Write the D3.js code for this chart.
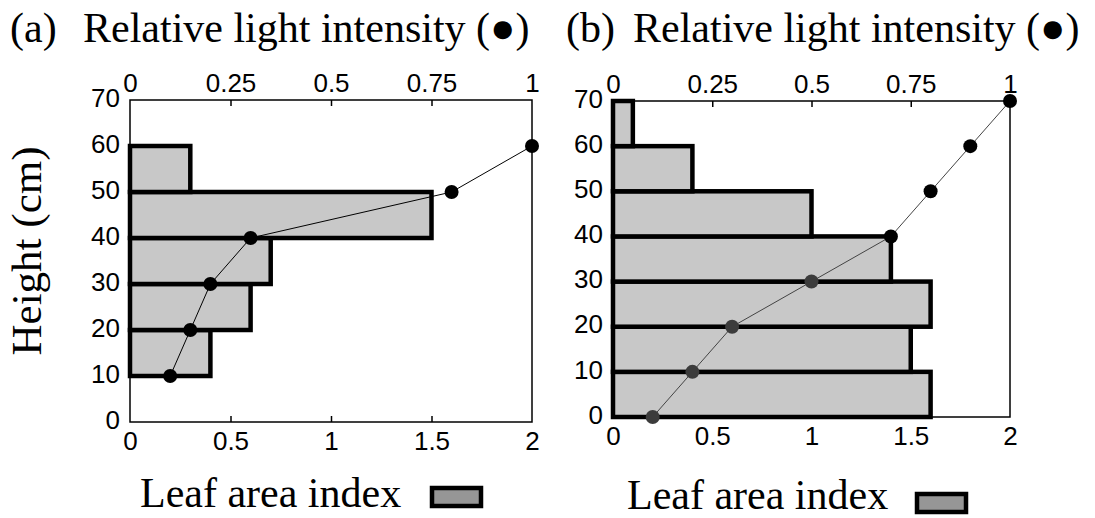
<!DOCTYPE html>
<html>
<head>
<meta charset="utf-8">
<script src="https://cdn.jsdelivr.net/npm/d3@7"></script>
<style>
  body { margin: 0; background: #fff; }
  svg { display: block; }
  .tick text { font-family: "Liberation Sans", Arial, sans-serif; font-size: 26px; fill: #000; }
  .serif { font-family: "Liberation Serif", "Times New Roman", serif; fill: #000; }
</style>
</head>
<body>
<div id="chart"></div>
<script>
// panel (a): leaf area index per 10 cm layer (layer bottoms) and relative light intensity
var layerA = [10, 20, 30, 40, 50];
var laiA = [0.4, 0.6, 0.7, 1.5, 0.3];
var lightHeightA = [10, 20, 30, 40, 50, 60];
var lightA = [0.1, 0.15, 0.2, 0.3, 0.8, 1.0];

// panel (b)
var layerB = [0, 10, 20, 30, 40, 50, 60];
var laiB = [1.6, 1.5, 1.6, 1.4, 1.0, 0.4, 0.1];
var lightHeightB = [0, 10, 20, 30, 40, 50, 60, 70];
var lightB = [0.1, 0.2, 0.3, 0.5, 0.7, 0.8, 0.9, 1.0];

var heightTicks = [0, 10, 20, 30, 40, 50, 60, 70];
var laiTicks = [0, 0.5, 1, 1.5, 2];
var lightTicks = [0, 0.25, 0.5, 0.75, 1];
var panelLabels = ["(a)", "(b)"];

var W = 1095, H = 518;
var svg = d3.select("#chart").append("svg").attr("width", W).attr("height", H);

var panels = [
  {label: panelLabels[0], layer: layerA, lai: laiA, lh: lightHeightA, light: lightA,
   x0: 130, x1: 532, y0: 100, y1: 422, labelX: 10, titleX: 83, titleY: 42,
   legX: 140, legY: 507, rectX: 432, rectY: 488, dotUnder: "#000", lineColor: "#000"},
  {label: panelLabels[1], layer: layerB, lai: laiB, lh: lightHeightB, light: lightB,
   x0: 613, x1: 1010, y0: 101, y1: 417, labelX: 566, titleX: 633, titleY: 42,
   legX: 627, legY: 509, rectX: 917, rectY: 494, dotUnder: "#3c3c3c", lineColor: "#444"}
];

panels.forEach(function(p) {
  var x = d3.scaleLinear().domain([0, 2]).range([p.x0, p.x1]);
  var xl = d3.scaleLinear().domain([0, 1]).range([p.x0, p.x1]);
  var y = d3.scaleLinear().domain([0, 70]).range([p.y1, p.y0]);
  var g = svg.append("g");

  // frame
  g.append("rect")
    .attr("x", p.x0).attr("y", p.y0)
    .attr("width", p.x1 - p.x0).attr("height", p.y1 - p.y0)
    .attr("fill", "none").attr("stroke", "#000").attr("stroke-width", 1.5);

  // bottom axis (LAI), ticks pointing inward
  var bx = g.append("g").attr("transform", "translate(0," + p.y1 + ")")
    .call(d3.axisBottom(x).tickValues(laiTicks).tickSizeInner(-6).tickSizeOuter(0)
      .tickPadding(10).tickFormat(d3.format("")));
  // top axis (light)
  var tx = g.append("g").attr("transform", "translate(0," + p.y0 + ")")
    .call(d3.axisTop(xl).tickValues(lightTicks).tickSizeInner(-6).tickSizeOuter(0)
      .tickPadding(8).tickFormat(d3.format("")));
  // left axis (height)
  var lx = g.append("g").attr("transform", "translate(" + p.x0 + ",0)")
    .call(d3.axisLeft(y).tickValues(heightTicks).tickSize(0).tickPadding(10));
  [bx, tx, lx].forEach(function(a) {
    a.select(".domain").remove();
    a.selectAll(".tick line").attr("stroke", "#000").attr("stroke-width", 1.5);
  });
  bx.selectAll(".tick line").filter(function(d) { return d === 0 || d === 2; }).remove();
  tx.selectAll(".tick line").filter(function(d) { return d === 0 || d === 1; }).remove();
  lx.selectAll(".tick text").attr("dy", "0.24em");

  // bars
  g.append("g").selectAll("rect")
    .data(p.layer)
    .join("rect")
      .attr("x", x(0))
      .attr("y", function(d) { return y(d + 10); })
      .attr("width", function(d, i) { return x(p.lai[i]) - x(0); })
      .attr("height", function(d) { return y(d) - y(d + 10); })
      .attr("fill", "#c8c8c8")
      .attr("stroke", "#000")
      .attr("stroke-width", 4.5);

  // light profile
  var pts = p.lh.map(function(h, i) { return [xl(p.light[i]), y(h)]; });
  g.append("path")
    .attr("d", d3.line()(pts))
    .attr("fill", "none").attr("stroke", p.lineColor).attr("stroke-width", 1);
  g.append("g").selectAll("circle")
    .data(pts)
    .join("circle")
      .attr("cx", function(d) { return d[0]; })
      .attr("cy", function(d) { return d[1]; })
      .attr("r", 7)
      .attr("fill", function(d, i) {
        // dots sitting inside a leaf layer look greyed in panel (b)
        var h = p.lh[i];
        var inside = p.layer.some(function(b, j) { return h >= b && h < b + 10 && p.light[i] * 2 < p.lai[j]; });
        return inside ? p.dotUnder : "#000";
      });

  // titles
  svg.append("text").attr("class", "serif")
    .attr("x", p.labelX).attr("y", p.titleY)
    .attr("font-size", 42).text(p.label);
  svg.append("text").attr("class", "serif")
    .attr("x", p.titleX).attr("y", p.titleY)
    .attr("font-size", 42).text("Relative light intensity (\u25CF)");

  // legend
  svg.append("text").attr("class", "serif")
    .attr("x", p.legX).attr("y", p.legY)
    .attr("font-size", 42).text("Leaf area index");
  svg.append("rect")
    .attr("x", p.rectX).attr("y", p.rectY)
    .attr("width", 49).attr("height", 18)
    .attr("fill", "#969696").attr("stroke", "#000").attr("stroke-width", 4.5);
});

svg.append("text").attr("class", "serif")
  .attr("transform", "translate(41,251) rotate(-90)")
  .attr("text-anchor", "middle")
  .attr("font-size", 43).text("Height (cm)");
</script>
</body>
</html>
